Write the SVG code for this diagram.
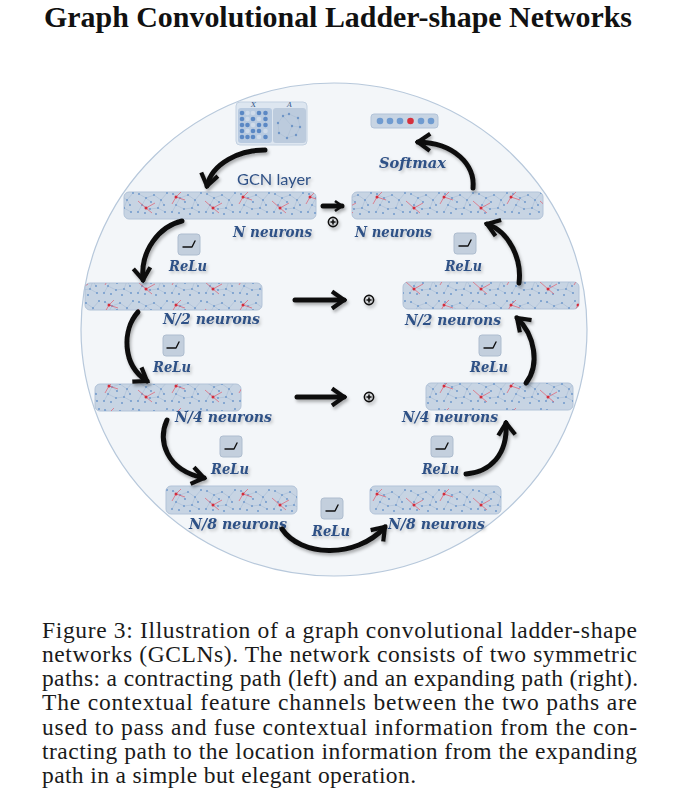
<svg xmlns="http://www.w3.org/2000/svg" width="694" height="812" viewBox="0 0 694 812">
<style>
.title{font-family:"Liberation Serif","Times New Roman",serif;font-weight:bold;font-size:30px;fill:#111}
.cap{font-family:"Liberation Serif","Times New Roman",serif;font-size:23.5px;fill:#1a1a1a}
.lbl{font-family:"DejaVu Serif",serif;font-style:italic;font-weight:bold;font-size:15px;fill:#2f5186}
.gcn{font-family:Lato,"Open Sans",sans-serif;font-size:16px;fill:#2f5186}
.bar{fill:#c7d4e3;stroke:#b2c3d8;stroke-width:1}
.tex{fill:url(#net)}
.red{fill:url(#redn)}
.icon{fill:#c3cfdd;stroke:#aebdcf;stroke-width:1}
.relu{fill:none;stroke:#111;stroke-width:1.4;stroke-linecap:round;stroke-linejoin:round}
.conn{fill:none;stroke:#111;stroke-width:5;stroke-linecap:round}
.plus{fill:none;stroke:#111;stroke-width:1.6}
.tiny{font-family:"DejaVu Serif",serif;font-style:italic;font-size:7px;fill:#2f5186}
</style>
<defs>
<filter id="sh" x="-20%" y="-30%" width="140%" height="160%">
<feDropShadow dx="1.5" dy="2.5" stdDeviation="1.6" flood-color="#000" flood-opacity="0.3"/>
</filter>
<filter id="tsh" x="-10%" y="-30%" width="130%" height="170%">
<feDropShadow dx="1.5" dy="2" stdDeviation="1.5" flood-color="#000" flood-opacity="0.22"/>
</filter>
<pattern id="net" width="34" height="27" patternUnits="userSpaceOnUse">
<path d="M3,5 L10,9 L6,16 L14,20 M10,9 L18,6 L25,11 L31,4 M25,11 L22,19 L29,23 M14,20 L22,19 M6,16 L2,23 M15,13 L10,9 M28,16 L25,11" stroke="#a3b8d2" stroke-width="0.5" fill="none"/>
<g fill="#7099cb">
<circle cx="3" cy="5" r="1"/><circle cx="10" cy="9" r="1"/><circle cx="6" cy="16" r="1"/><circle cx="14" cy="20" r="1"/><circle cx="18" cy="6" r="1"/><circle cx="25" cy="11" r="1"/><circle cx="31" cy="4" r="1"/><circle cx="22" cy="19" r="1"/><circle cx="29" cy="23" r="1"/><circle cx="2" cy="23" r="1"/><circle cx="15" cy="13" r="1"/><circle cx="28" cy="16" r="1"/><circle cx="9" cy="24" r="1"/><circle cx="20" cy="25" r="1"/>
</g>
</pattern>
<pattern id="redn" width="67" height="27" patternUnits="userSpaceOnUse">
<path d="M12,19 L4,12 M12,19 L21,14 M12,19 L18,24 M42,8 L38,15 M42,8 L51,11 M42,8 L47,3" stroke="#e25a6c" stroke-width="0.7" fill="none"/>
<circle cx="12" cy="19" r="1.5" fill="#d52b3a"/><circle cx="42" cy="8" r="1.5" fill="#d52b3a"/>
</pattern>
<marker id="ah" viewBox="-14 -11 17 22" refX="0" refY="0" markerWidth="17" markerHeight="22" markerUnits="userSpaceOnUse" orient="auto">
<path d="M-12,-8.5 L0,0 L-12,8.5" fill="none" stroke="#111" stroke-width="4.2" stroke-linejoin="miter"/>
</marker>
<marker id="ahs" viewBox="-9 -7 11 14" refX="0" refY="0" markerWidth="11" markerHeight="14" markerUnits="userSpaceOnUse" orient="auto">
<path d="M-7,-5 L0,0 L-7,5" fill="none" stroke="#111" stroke-width="2.6"/>
</marker>
</defs>

<rect width="694" height="812" fill="#fff"/>
<text class="title" x="44" y="27" textLength="588" lengthAdjust="spacingAndGlyphs">Graph Convolutional Ladder-shape Networks</text>

<ellipse cx="334" cy="329.5" rx="253" ry="246.5" fill="#f3f6f9" stroke="#b7c8db" stroke-width="1.2"/>

<g id="input">
<rect x="236" y="102" width="71" height="43" rx="4" fill="#dde6f0" stroke="#c3d1e1"/>
<rect x="238" y="108" width="34" height="35" rx="3" fill="#b8cae0"/>
<rect x="273" y="108" width="33" height="35" rx="3" fill="#bccbdd"/>
<text class="tiny" x="251" y="106.5">X</text>
<text class="tiny" x="287" y="106.5">A</text>
<g fill="#5b88c4">
<circle cx="242" cy="113" r="2.3"/><circle cx="259" cy="113" r="2.3"/><circle cx="265.5" cy="113" r="2.3"/>
<circle cx="242" cy="119" r="2.3"/><circle cx="253" cy="119" r="2.3"/><circle cx="265.5" cy="119" r="2.3"/>
<circle cx="242" cy="125" r="2.3"/><circle cx="247.5" cy="125" r="2.3"/><circle cx="259" cy="125" r="2.3"/><circle cx="265.5" cy="125" r="2.3"/>
<circle cx="242" cy="131" r="2.3"/><circle cx="253" cy="131" r="2.3"/><circle cx="259" cy="131" r="2.3"/>
<circle cx="242" cy="137" r="2.3"/><circle cx="247.5" cy="137" r="2.3"/><circle cx="253" cy="137" r="2.3"/><circle cx="265.5" cy="137" r="2.3"/>
</g>
<g fill="#cfdbea">
<circle cx="247.5" cy="113" r="2.3"/><circle cx="253" cy="113" r="2.3"/><circle cx="247.5" cy="119" r="2.3"/><circle cx="259" cy="119" r="2.3"/><circle cx="253" cy="125" r="2.3"/><circle cx="247.5" cy="131" r="2.3"/><circle cx="265.5" cy="131" r="2.3"/><circle cx="259" cy="137" r="2.3"/>
</g>
<path d="M289,114 L298,118 L300,127 L296,135 L287,138 L279,133 L278,123 L283,116 Z M283,116 L292,126 L287,138 M292,126 L300,127" fill="none" stroke="#a9bcd3" stroke-width="0.5"/>
<g fill="#6f95c6">
<circle cx="289" cy="114" r="1.2"/><circle cx="298" cy="118" r="1.2"/><circle cx="300" cy="127" r="1.2"/><circle cx="296" cy="135" r="1.2"/><circle cx="287" cy="138" r="1.2"/><circle cx="279" cy="133" r="1.2"/><circle cx="278" cy="123" r="1.2"/><circle cx="283" cy="116" r="1.2"/><circle cx="292" cy="126" r="1.2"/>
</g>
</g>

<g id="output">
<rect x="371" y="114" width="67" height="14" rx="3" fill="#c7d4e3" stroke="#b2c3d8"/>
<g fill="#6f9bd0"><circle cx="380" cy="121" r="3.3"/><circle cx="390" cy="121" r="3.3"/><circle cx="400" cy="121" r="3.3"/><circle cx="421" cy="121" r="3.3"/><circle cx="431" cy="121" r="3.3"/></g>
<circle cx="410.5" cy="121" r="3.3" fill="#d6303c"/>
<text class="lbl" x="379" y="168" textLength="67" lengthAdjust="spacingAndGlyphs" filter="url(#tsh)">Softmax</text>
</g>

<g id="L1">
<rect class="bar" x="124" y="192" width="192" height="27" rx="5"/>
<rect class="tex" x="124" y="192" width="192" height="27" rx="5"/>
<rect class="red" x="124" y="192" width="192" height="27" rx="5"/>
<text class="gcn" x="237" y="185" textLength="74" lengthAdjust="spacingAndGlyphs" filter="url(#tsh)">GCN layer</text>
<text class="lbl" x="233" y="237" textLength="79" lengthAdjust="spacingAndGlyphs" filter="url(#tsh)">N neurons</text>
</g>
<g id="R1">
<rect class="bar" x="352" y="192" width="191" height="27" rx="5"/>
<rect class="tex" x="352" y="192" width="191" height="27" rx="5"/>
<rect class="red" x="352" y="192" width="191" height="27" rx="5"/>
<text class="lbl" x="355" y="237" textLength="77" lengthAdjust="spacingAndGlyphs" filter="url(#tsh)">N neurons</text>
</g>
<g id="L2">
<rect class="bar" x="85" y="283" width="177" height="27" rx="5"/>
<rect class="tex" x="85" y="283" width="177" height="27" rx="5"/>
<rect class="red" x="85" y="283" width="177" height="27" rx="5"/>
<text class="lbl" x="163" y="324" textLength="97" lengthAdjust="spacingAndGlyphs" filter="url(#tsh)">N/2 neurons</text>
</g>
<g id="R2">
<rect class="bar" x="403" y="282" width="176" height="27" rx="5"/>
<rect class="tex" x="403" y="282" width="176" height="27" rx="5"/>
<rect class="red" x="403" y="282" width="176" height="27" rx="5"/>
<text class="lbl" x="405" y="325" textLength="96" lengthAdjust="spacingAndGlyphs" filter="url(#tsh)">N/2 neurons</text>
</g>
<g id="L3">
<rect class="bar" x="95" y="384" width="146" height="27" rx="5"/>
<rect class="tex" x="95" y="384" width="146" height="27" rx="5"/>
<rect class="red" x="95" y="384" width="146" height="27" rx="5"/>
<text class="lbl" x="175" y="422" textLength="97" lengthAdjust="spacingAndGlyphs" filter="url(#tsh)">N/4 neurons</text>
</g>
<g id="R3">
<rect class="bar" x="426" y="383" width="147" height="27" rx="5"/>
<rect class="tex" x="426" y="383" width="147" height="27" rx="5"/>
<rect class="red" x="426" y="383" width="147" height="27" rx="5"/>
<text class="lbl" x="402" y="422" textLength="96" lengthAdjust="spacingAndGlyphs" filter="url(#tsh)">N/4 neurons</text>
</g>
<g id="L4">
<rect class="bar" x="166" y="486" width="131" height="28" rx="5"/>
<rect class="tex" x="166" y="486" width="131" height="28" rx="5"/>
<rect class="red" x="166" y="486" width="131" height="28" rx="5"/>
<text class="lbl" x="189" y="529" textLength="98" lengthAdjust="spacingAndGlyphs" filter="url(#tsh)">N/8 neurons</text>
</g>
<g id="R4">
<rect class="bar" x="370" y="486" width="131" height="28" rx="5"/>
<rect class="tex" x="370" y="486" width="131" height="28" rx="5"/>
<rect class="red" x="370" y="486" width="131" height="28" rx="5"/>
<text class="lbl" x="388" y="529" textLength="97" lengthAdjust="spacingAndGlyphs" filter="url(#tsh)">N/8 neurons</text>
</g>

<g id="relu-icons">
<g id="reluL1"><rect class="icon" x="178" y="234" width="22" height="21" rx="3"/><path class="relu" d="M183,247 L192,247 L195,241"/><text class="lbl" x="169" y="271" textLength="38" lengthAdjust="spacingAndGlyphs" filter="url(#tsh)">ReLu</text></g>
<g id="reluR1"><rect class="icon" x="454" y="233" width="22" height="21" rx="3"/><path class="relu" d="M459,246 L468,246 L471,240"/><text class="lbl" x="445" y="271" textLength="37" lengthAdjust="spacingAndGlyphs" filter="url(#tsh)">ReLu</text></g>
<g id="reluL2"><rect class="icon" x="163" y="335" width="21" height="21" rx="3"/><path class="relu" d="M167,348 L176,348 L179,342"/><text class="lbl" x="153" y="372" textLength="38" lengthAdjust="spacingAndGlyphs" filter="url(#tsh)">ReLu</text></g>
<g id="reluR2"><rect class="icon" x="479" y="335" width="22" height="21" rx="3"/><path class="relu" d="M484,348 L493,348 L496,342"/><text class="lbl" x="470" y="372" textLength="38" lengthAdjust="spacingAndGlyphs" filter="url(#tsh)">ReLu</text></g>
<g id="reluL3"><rect class="icon" x="220" y="436" width="22" height="21" rx="3"/><path class="relu" d="M225,449 L234,449 L237,443"/><text class="lbl" x="211" y="474" textLength="38" lengthAdjust="spacingAndGlyphs" filter="url(#tsh)">ReLu</text></g>
<g id="reluR3"><rect class="icon" x="431" y="436" width="22" height="21" rx="3"/><path class="relu" d="M436,449 L445,449 L448,443"/><text class="lbl" x="422" y="474" textLength="37" lengthAdjust="spacingAndGlyphs" filter="url(#tsh)">ReLu</text></g>
<g id="reluB"><rect class="icon" x="321" y="498" width="22" height="21" rx="3"/><path class="relu" d="M326,511 L335,511 L338,505"/><text class="lbl" x="312" y="536" textLength="38" lengthAdjust="spacingAndGlyphs" filter="url(#tsh)">ReLu</text></g>
</g>

<g id="fuse" filter="url(#sh)">
<g id="fuse1"><circle class="plus" cx="333" cy="222" r="4.6"/><path class="plus" d="M330.5,222 H335.5 M333,219.5 V224.5"/></g>
<g id="fuse2"><circle class="plus" cx="369" cy="300" r="4.6"/><path class="plus" d="M366.5,300 H371.5 M369,297.5 V302.5"/></g>
<g id="fuse3"><circle class="plus" cx="369" cy="397" r="4.6"/><path class="plus" d="M366.5,397 H371.5 M369,394.5 V399.5"/></g>
</g>

<g id="connectors" filter="url(#sh)">
<path class="conn" d="M265,150 C240,150 212,163 207,186" marker-end="url(#ah)"/>
<path class="conn" d="M182,221 C160,226 140,250 143,280" marker-end="url(#ah)"/>
<path class="conn" d="M138,312 C122,330 122,365 147,381" marker-end="url(#ah)"/>
<path class="conn" d="M167,420 C158,440 165,470 204,478" marker-end="url(#ah)"/>
<path class="conn" d="M282,529 C300,556 355,560 385,527" marker-end="url(#ah)"/>
<path class="conn" d="M466,474 C490,472 508,455 506,423" marker-end="url(#ah)"/>
<path class="conn" d="M526,383 C540,365 535,335 517,318" marker-end="url(#ah)"/>
<path class="conn" d="M519,283 C522,260 510,232 487,224" marker-end="url(#ah)"/>
<path class="conn" d="M473,188 C475,165 455,143 418,142" marker-end="url(#ah)"/>
<path class="conn" d="M323,206 L342,206" stroke-width="2.6" marker-end="url(#ahs)"/>
<path class="conn" d="M295,300 L344,300" stroke-width="3.8" marker-end="url(#ah)"/>
<path class="conn" d="M297,397 L344,397" stroke-width="3.8" marker-end="url(#ah)"/>
</g>

<g id="caption">
<text class="cap" x="42" y="637.5" textLength="595" lengthAdjust="spacing">Figure 3: Illustration of a graph convolutional ladder-shape</text>
<text class="cap" x="42" y="661.8" textLength="595" lengthAdjust="spacing">networks (GCLNs). The network consists of two symmetric</text>
<text class="cap" x="42" y="686.1" textLength="596" lengthAdjust="spacing">paths: a contracting path (left) and an expanding path (right).</text>
<text class="cap" x="42" y="710.4" textLength="595" lengthAdjust="spacing">The contextual feature channels between the two paths are</text>
<text class="cap" x="42" y="734.7" textLength="595" lengthAdjust="spacing">used to pass and fuse contextual information from the con-</text>
<text class="cap" x="42" y="759" textLength="595" lengthAdjust="spacing">tracting path to the location information from the expanding</text>
<text class="cap" x="42" y="783.3" textLength="374" lengthAdjust="spacing">path in a simple but elegant operation.</text>
</g>
</svg>
